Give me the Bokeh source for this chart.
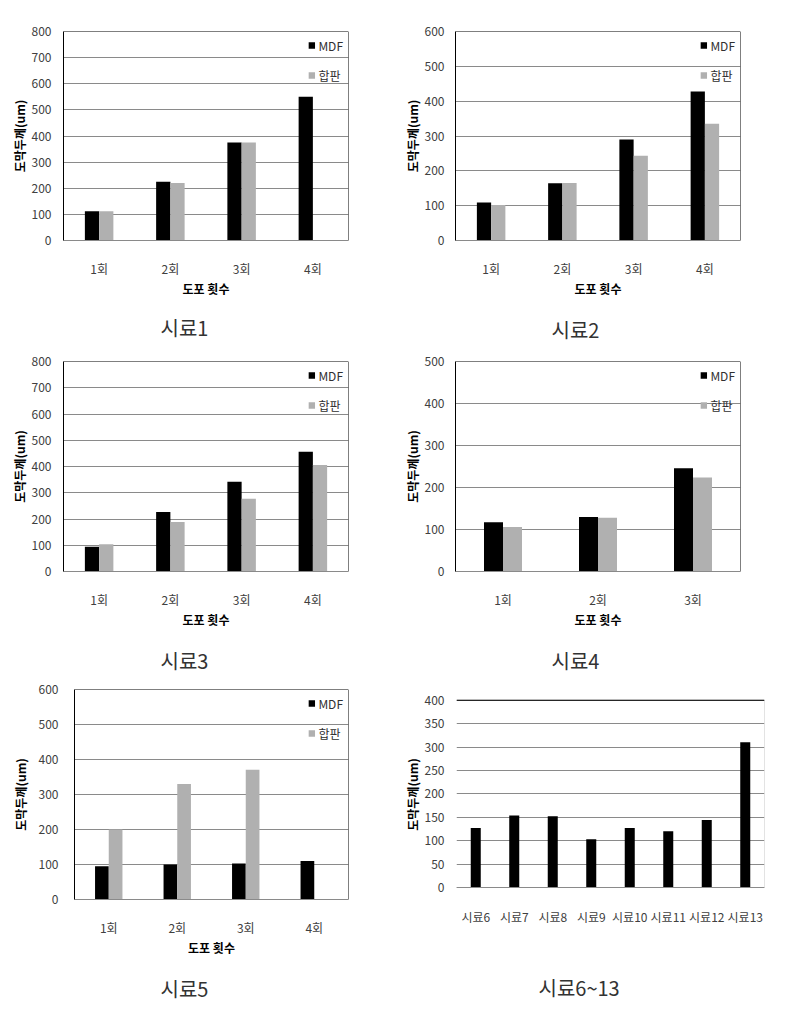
from bokeh.plotting import figure
from bokeh.models import (Range1d, FactorRange, FixedTicker, Legend, LegendItem,
                          Span, Title, ColumnDataSource)
from bokeh.transform import dodge
from bokeh.layouts import column, row
from bokeh.embed import file_html
from bokeh.resources import INLINE

# ---------------- data ----------------
cats4 = ["1회", "2회", "3회", "4회"]
cats3 = ["1회", "2회", "3회"]
NA = float("nan")

s1_mdf = [112, 225, 375, 550]
s1_ply = [112, 220, 375, NA]

s2_mdf = [109, 164, 290, 428]
s2_ply = [102, 165, 243, 335]

s3_mdf = [94, 227, 342, 456]
s3_ply = [104, 189, 277, 406]

s4_mdf = [117, 130, 246]
s4_ply = [106, 128, 224]

s5_mdf = [95, 100, 103, 110]
s5_ply = [200, 330, 371, NA]

samples = ["시료6", "시료7", "시료8", "시료9", "시료10", "시료11", "시료12", "시료13"]
s6_vals = [127, 154, 152, 103, 127, 120, 144, 310]

series_names = ["MDF", "합판"]
captions = ["시료1", "시료2", "시료3", "시료4", "시료5", "시료6~13"]
y_title = "도막두께(um)"
x_title = "도포 횟수"

FONT = "Noto Sans CJK KR"
MDF_COLOR = "#000000"
PLY_COLOR = "#b0b0b0"
GRID = "#8a8a8a"


def base_fig(cats, y0, y1, ymax, ystep, fw, fh, mbl, mbr, mbt, mbb,
             lab_standoff, title_standoff):
    p = figure(x_range=FactorRange(*cats), y_range=Range1d(y0, y1),
               frame_width=fw, frame_height=fh,
               min_border_left=mbl, min_border_right=mbr,
               min_border_top=mbt, min_border_bottom=mbb,
               output_backend="svg", toolbar_location=None)
    p.outline_line_color = None
    p.background_fill_color = "white"
    p.border_fill_color = "white"
    p.xgrid.grid_line_color = None
    p.ygrid.grid_line_color = GRID
    p.ygrid.grid_line_width = 1
    p.yaxis.ticker = FixedTicker(ticks=list(range(0, ymax + 1, ystep)))
    for ax in (p.xaxis[0], p.yaxis[0]):
        ax.major_tick_line_color = None
        ax.minor_tick_line_color = None
        ax.major_tick_out = 0
        ax.major_tick_in = 0
        ax.minor_tick_out = 0
        ax.major_label_text_font = FONT
        ax.major_label_text_font_size = "12px"
        ax.major_label_text_color = "#404040"
        ax.axis_label_text_font = FONT
        ax.axis_label_text_font_size = "12px"
        ax.axis_label_text_font_style = "bold"
        ax.axis_label_text_color = "#000000"
    p.yaxis.axis_line_color = "#000000"
    p.yaxis.major_label_standoff = lab_standoff
    p.yaxis.axis_label = y_title
    p.yaxis.axis_label_standoff = title_standoff
    p.xaxis.axis_line_color = GRID
    p.xaxis.major_label_standoff = 19
    p.x_range.range_padding = 0
    return p


def add_caption(p, text, offset, gap):
    # thin empty spacer title, then the caption directly below it
    p.add_layout(Title(text=" ", standoff=gap, text_font=FONT, text_font_size="1px",
                       text_color="#ffffff"), "below")
    p.add_layout(Title(text=text, align="left", offset=offset, standoff=0,
                       text_font=FONT, text_font_size="20px",
                       text_font_style="normal", text_color="#333333"), "below")


def grouped_panel(cats, mdf, ply, ymax, ystep, caption, fw, fh, mbl, mbr, mbt, mbb,
                  lab_standoff, title_standoff, cap_offset, cap_gap):
    p = base_fig(cats, 0, ymax, ymax, ystep, fw, fh, mbl, mbr, mbt, mbb,
                 lab_standoff, title_standoff)
    src = ColumnDataSource(dict(cat=cats, mdf=mdf, ply=ply))
    r1 = p.vbar(x=dodge("cat", -0.1, range=p.x_range), top="mdf", width=0.2,
                source=src, fill_color=MDF_COLOR, line_color=None)
    r2 = p.vbar(x=dodge("cat", 0.1, range=p.x_range), top="ply", width=0.2,
                source=src, fill_color=PLY_COLOR, line_color=None)
    p.xaxis.axis_label = x_title
    p.xaxis.axis_label_standoff = 0
    p.add_layout(Span(location=ymax, dimension="width", line_color="#000000", line_width=1))
    p.add_layout(Span(location=len(cats), dimension="height", line_color="#000000", line_width=1))
    leg = Legend(items=[LegendItem(label=series_names[0], renderers=[r1]),
                        LegendItem(label=series_names[1], renderers=[r2])],
                 location="top_right", orientation="vertical",
                 background_fill_alpha=0, border_line_alpha=0,
                 glyph_width=8, glyph_height=8, label_height=18, spacing=12,
                 label_standoff=3, padding=2, margin=3,
                 label_text_font=FONT, label_text_font_size="12px",
                 label_text_color="#303030")
    p.add_layout(leg)
    add_caption(p, caption, cap_offset, cap_gap)
    return p


# row 1
p1 = grouped_panel(cats4, s1_mdf, s1_ply, 800, 100, captions[0],
                   285, 209, 63, 52, 31, 107, 12, 1, 97, 8)
p2 = grouped_panel(cats4, s2_mdf, s2_ply, 600, 100, captions[1],
                   285, 209, 53, 52, 31, 107, 11, 1, 96, 10)
# row 2
p3 = grouped_panel(cats4, s3_mdf, s3_ply, 800, 100, captions[2],
                   285, 210, 63, 52, 14, 107, 12, 1, 97, 10)
p4 = grouped_panel(cats3, s4_mdf, s4_ply, 500, 100, captions[3],
                   285, 210, 53, 52, 14, 107, 11, 1, 96, 10)
# row 3
p5 = grouped_panel(cats4, s5_mdf, s5_ply, 600, 100, captions[4],
                   274, 210, 74, 52, 11, 107, 16, 7, 86, 10)

# panel 6: single series; its plotting box is slightly inset inside the
# shared row frame, so the y range gets a little padding around 0..400
p6 = base_fig(samples, -25.6, 422.9, 400, 50, 308, 210, 55, 27, 11, 107, 12, 1)
src6 = ColumnDataSource(dict(cat=samples, val=s6_vals))
p6.vbar(x="cat", top="val", width=0.26, source=src6, fill_color=MDF_COLOR, line_color=None)
p6.yaxis.axis_line_color = None
p6.xaxis.axis_line_color = None
p6.xaxis.major_label_standoff = 8
p6.add_layout(Span(location=400, dimension="width", line_color="#000000", line_width=1))
p6.add_layout(Span(location=0, dimension="width", line_color=GRID, line_width=1))
n6 = len(samples)
p6.segment(x0=[n6], y0=[0], x1=[n6], y1=[400], line_color="#c8c8c8", line_width=1)
add_caption(p6, captions[5], 82, 40)

layout = column(row(p1, p2), row(p3, p4), row(p5, p6))
open("out.html", "w").write(file_html(layout, INLINE))
